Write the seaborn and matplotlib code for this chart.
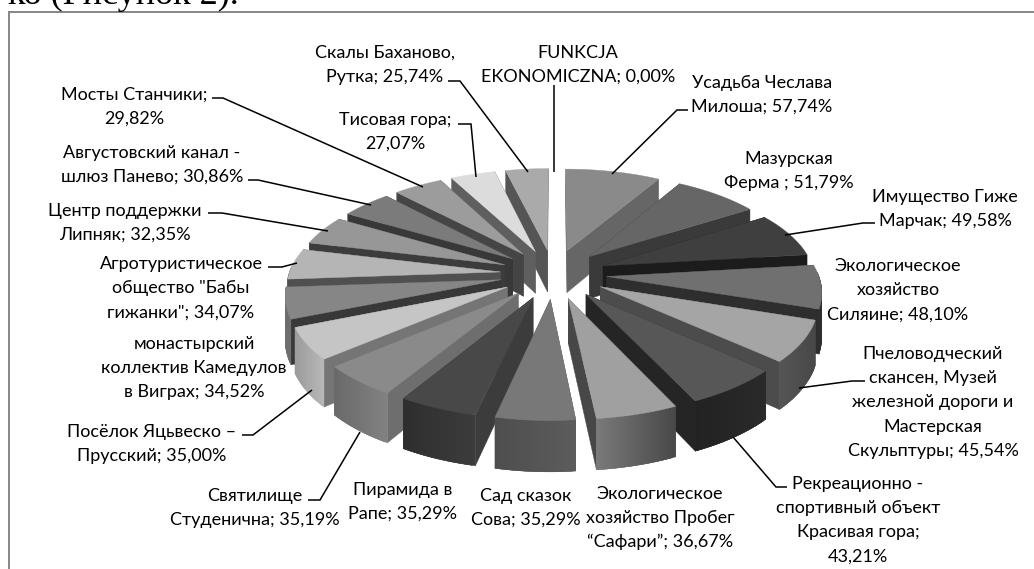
import numpy as np
import matplotlib
matplotlib.use("Agg")
import matplotlib.pyplot as plt
from matplotlib.colors import to_rgb
import seaborn as sns

# ---------- data ----------
names = ["FUNKCJA\nEKONOMICZNA", "Усадьба Чеслава\nМилоша", "Мазурская\nФерма ", "Имущество Гиже\nМарчак",
         "Экологическое\nхозяйство\nСиляине", "Пчеловодческий\nскансен, Музей\nжелезной дороги и\nМастерская\nСкульптуры",
         "Рекреационно -\nспортивный объект\nКрасивая гора",
         "Экологическое\nхозяйство Пробег\n“Сафари”", "Сад сказок\nСова", "Пирамида в\nРапе",
         "Святилище\nСтуденична", "Посёлок Яцьвеско –\nПрусский", "монастырский\nколлектив Камедулов\nв Виграх",
         "Агротуристическое\nобщество \"Бабы\nгижанки\"", "Центр поддержки\nЛипняк", "Августовский канал -\nшлюз Панево",
         "Мосты Станчики", "Тисовая гора", "Скалы Баханово,\nРутка"]
values = [0.00, 57.74, 51.79, 49.58, 48.10, 45.54, 43.21, 36.67, 35.29, 35.29,
          35.19, 35.00, 34.52, 34.07, 32.35, 30.86, 29.82, 27.07, 25.74]
value_on_new_line = {"Рекреационно -\nспортивный объект\nКрасивая гора", "Мосты Станчики", "Тисовая гора"}

# ---------- styles ----------
top_col = ["#ffffff", "#8a8a8a", "#666666", "#3f3f3f", "#707070", "#a5a5a5", "#575757", "#a0a0a0", "#787878", "#484848",
           "#8a8a8a", "#c5c5c5", "#868686", "#b5b5b5", "#979797", "#7b7b7b", "#9c9c9c", "#dcdcdc", "#aaaaaa"]
side_col = ["#ffffff", "#666666", "#3a3a3a", "#1c1c1c", "#2e2e2e", "#4c4c4c", "#252525", "#474747", "#4c4c4c", "#3c3c3c",
            "#6e6e6e", "#757575", "#383838", "#505050", "#3c3c3c", "#383838", "#454545", "#5f5f5f", "#555555"]
wall_l = ["#ffffff", "#666666", "#3a3a3a", "#1c1c1c", "#2e2e2e", "#555555", "#222222", "#7a7a7a", "#4e4e4e", "#2e2e2e",
          "#6a6a6a", "#9c9c9c", "#6e6e6e", "#505050", "#3c3c3c", "#383838", "#454545", "#5f5f5f", "#555555"]
wall_r = ["#ffffff", "#666666", "#3a3a3a", "#1c1c1c", "#2e2e2e", "#484848", "#2a2a2a", "#484848", "#5c5c5c", "#3c3c3c",
          "#828282", "#b8b8b8", "#6e6e6e", "#505050", "#3c3c3c", "#383838", "#454545", "#5f5f5f", "#555555"]

# label layout: x centre, y of first line centre (pixels)
label_x = [578, 762, 789, 945, 898, 933, 858, 660, 526, 403, 255, 152, 194, 181, 125, 152, 134, 395, 385]
label_y = [52, 82, 158, 196, 265, 353, 483, 493, 495, 489, 495, 431, 343, 263, 210, 152, 94, 119, 52]
LINE_STEP = 24.4
leaders = [
    [(554, 85), (554, 172)],
    [(688, 110), (677, 110), (612, 174)],
    [(875, 223), (863, 223), (785, 235)],
    [(865, 381), (852, 381), (799, 388)],
    [(787, 487), (776, 487), (733, 437)],
    [(308, 500), (320, 500), (360, 432)],
    [(242, 435), (253, 435), (312, 390)],
    [(268, 267), (282, 267), (297, 263)],
    [(208, 213), (222, 213), (328, 231)],
    [(248, 180), (258, 180), (371, 205)],
    [(212, 98), (223, 98), (423, 187)],
    [(458, 124), (471, 124), (476, 177)],
    [(448, 81), (460, 81), (528, 172)],
]

# projection of the pie plane
CX, CY = 553.5, 274
A, B, K = 211.5, 98, 0.13
EXPLODE = 0.252
DEPTH = 43

sns.set_theme(style="white")
plt.rcParams["font.family"] = ["Lato", "Open Sans", "DejaVu Sans"]

fig = plt.figure(figsize=(10.34, 5.69), dpi=100, facecolor="white")
ax = fig.add_axes([0, 0, 1, 1])
ax.set_xlim(0, 1034)
ax.set_ylim(569, 0)
ax.axis("off")


def project(r, theta, phi, z=0.0):
    X = r * np.sin(theta) + EXPLODE * np.sin(phi)
    Y = -r * np.cos(theta) - EXPLODE * np.cos(phi)
    w = 1 - K * Y
    return CX + A * X / w, CY + B * Y / w + z / w


vals = np.array(values)
edges = np.concatenate([[0], np.cumsum(vals)]) / vals.sum() * 2 * np.pi
mids = (edges[:-1] + edges[1:]) / 2


def poly(xs, ys, c):
    ax.fill(xs, ys, color=c, lw=0.3, zorder=3)


for i in sorted(range(len(vals)), key=lambda j: -np.cos(mids[j])):
    if vals[i] == 0:
        continue
    t0, t1, m = edges[i], edges[i + 1], mids[i]
    # radial walls
    for t in (t0, t1):
        p0 = project(0, t, m)
        p1 = project(1, t, m)
        p2 = project(1, t, m, DEPTH)
        p3 = project(0, t, m, DEPTH)
        poly([p0[0], p1[0], p2[0], p3[0]], [p0[1], p1[1], p2[1], p3[1]], side_col[i])
    # outer wall in overlapping strips, shaded left to right on screen
    ts = np.linspace(t0, t1, 25)
    tx, ty = project(1, ts, m)
    bx, by = project(1, ts, m, DEPTH)
    cl, cr = np.array(to_rgb(wall_l[i])), np.array(to_rgb(wall_r[i]))
    xmin, xmax = tx.min(), tx.max()
    idx = [k for k in range(len(ts) - 1) if np.cos((ts[k] + ts[k + 1]) / 2) < 0.05]
    for k in idx:
        e = min(k + 2, len(ts) - 1)
        f = ((tx[k] + tx[k + 1]) / 2 - xmin) / max(xmax - xmin, 1)
        poly([tx[k], tx[e], bx[e], bx[k]], [ty[k], ty[e], by[e], by[k]], tuple(cl + (cr - cl) * f))
    # top face
    cx0, cy0 = project(0, m, m)
    poly(np.r_[cx0, tx], np.r_[cy0, ty], top_col[i])

# leader lines
for pts in leaders:
    xs, ys = zip(*pts)
    ax.plot(xs, ys, color="black", lw=1.1, solid_capstyle="butt", solid_joinstyle="miter", zorder=4)

# labels, line by line
for n, v, x, y in zip(names, values, label_x, label_y):
    sep = ";\n" if n in value_on_new_line else "; "
    txt = n + sep + f"{v:.2f}".replace(".", ",") + "%"
    for k, line in enumerate(txt.split("\n")):
        ax.text(x, y + k * LINE_STEP + 5.5, line, ha="center", va="baseline", fontsize=13,
                color="black", zorder=5)

# frame (top and left only are inside the crop)
ax.plot([8.5, 8.5, 1034], [569, 11.5, 11.5], color="#868686", lw=1.4, zorder=2, solid_joinstyle="miter")

# fragment of the running text above the figure
ax.text(8, 4, "ко (Рисунок 2).", family="Liberation Serif", fontsize=26, va="baseline", ha="left", color="black",
        clip_on=False, zorder=6)

fig.savefig("out.png", dpi=100, facecolor="white")
